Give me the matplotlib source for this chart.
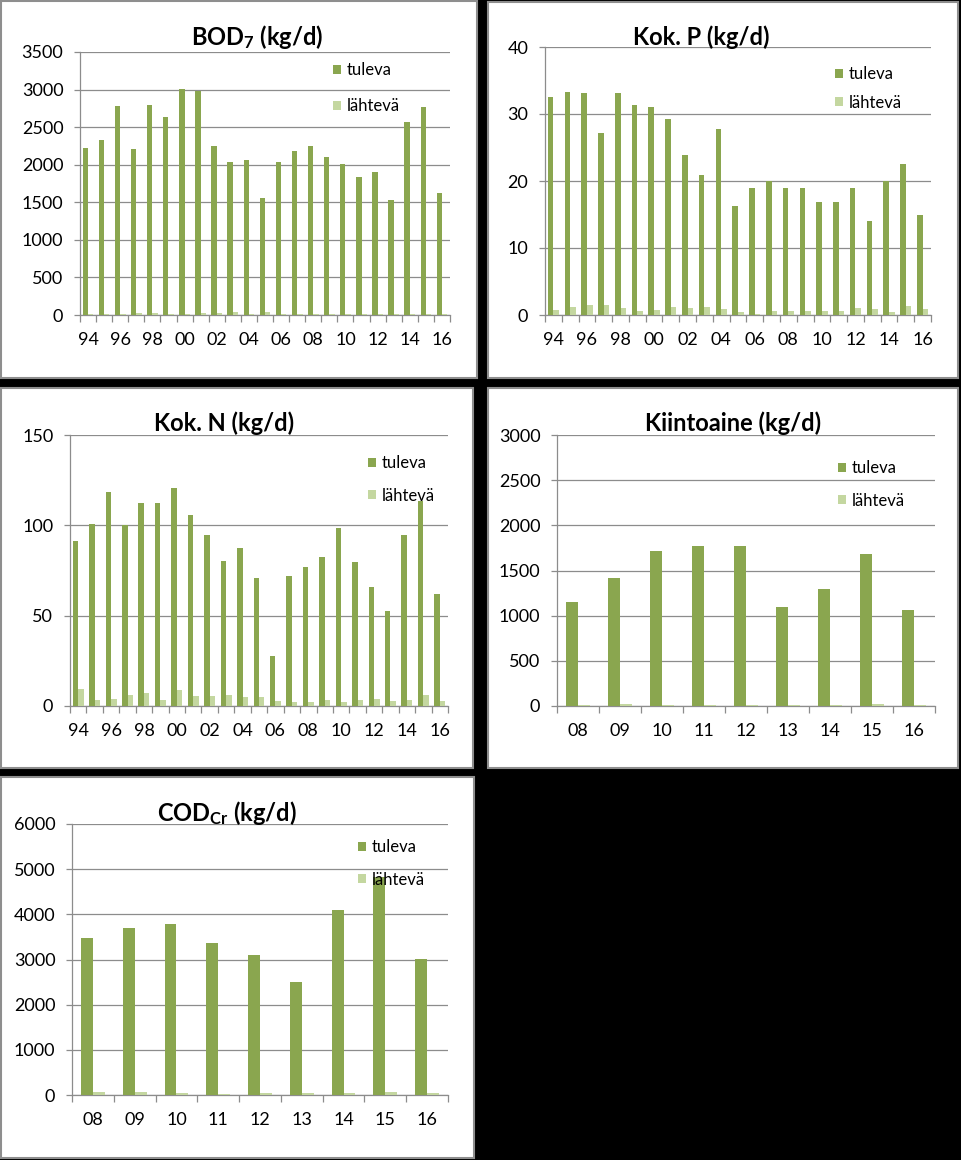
import matplotlib
matplotlib.use("Agg")
import matplotlib.pyplot as plt
from matplotlib.patches import Rectangle, Patch
import numpy as np

plt.rcParams['font.family'] = ['Lato', 'DejaVu Sans']
plt.rcParams['mathtext.fontset'] = 'custom'
plt.rcParams['mathtext.rm'] = 'Lato'
plt.rcParams['mathtext.bf'] = 'Lato:bold'
plt.rcParams['mathtext.it'] = 'Lato:italic'

# ---------------- data ----------------
years_long = ["94", "95", "96", "97", "98", "99", "00", "01", "02", "03", "04", "05",
              "06", "07", "08", "09", "10", "11", "12", "13", "14", "15", "16"]
years_short = ["08", "09", "10", "11", "12", "13", "14", "15", "16"]

bod_tuleva = [2220, 2325, 2775, 2205, 2800, 2630, 3005, 2985, 2245, 2035, 2058, 1558,
              2035, 2178, 2248, 2098, 2005, 1838, 1902, 1527, 2562, 2762, 1622]
bod_lahteva = [15, 12, 12, 25, 25, 12, 12, 25, 25, 40, 12, 40,
               12, 12, 12, 12, 12, 12, 12, 12, 12, 12, 12]

p_tuleva = [32.6, 33.3, 33.1, 27.2, 33.2, 31.4, 31.1, 29.3, 23.9, 20.9, 27.7, 16.3,
            19.0, 20.0, 19.0, 19.0, 16.9, 16.9, 19.0, 14.0, 20.0, 22.6, 14.9]
p_lahteva = [0.75, 1.25, 1.5, 1.5, 1.05, 0.65, 0.75, 1.25, 1.05, 1.25, 0.95, 0.45,
             0.2, 0.65, 0.65, 0.65, 0.65, 0.65, 1.05, 0.95, 0.45, 1.4, 0.95]

n_tuleva = [91.5, 100.9, 118.6, 100.2, 112.5, 112.5, 120.7, 105.9, 94.8, 80.4, 87.6, 71.0,
            27.9, 72.1, 77.1, 82.7, 98.7, 79.9, 66.1, 52.8, 94.8, 113.7, 62.2]
n_lahteva = [9.6, 3.5, 4.1, 6.1, 7.2, 3.5, 9.0, 5.5, 5.5, 6.1, 5.2, 5.2,
             3.0, 2.4, 2.4, 3.5, 2.4, 3.5, 4.1, 3.0, 3.5, 6.1, 3.0]

ss_tuleva = [1151, 1421, 1720, 1771, 1771, 1100, 1299, 1683, 1063]
ss_lahteva = [10, 25, 10, 10, 10, 10, 10, 25, 10]

cod_tuleva = [3476, 3697, 3786, 3365, 3100, 2502, 4096, 4819, 3011]
cod_lahteva = [66, 66, 44, 22, 44, 44, 44, 66, 44]

series_labels = ["tuleva", "lähtevä"]
# ---------------------------------------

W, H = 961, 1160
fig = plt.figure(figsize=(W / 100, H / 100), dpi=100, facecolor='black')

C_T = '#8AA64F'
C_L = '#C4D7A0'
GRID = '#8C8C8C'


def fx(x):
    return x / W


def fy(y):
    return 1 - y / H


# panel backgrounds
panels = [(1, 1, 477, 378), (488, 2, 958, 378), (1, 388, 473, 768),
          (488, 388, 958, 768), (1, 777, 474, 1158)]
for (x0, y0, x1, y1) in panels:
    fig.patches.append(Rectangle((fx(x0), fy(y1)), fx(x1) - fx(x0), fy(y0) - fy(y1),
                                 transform=fig.transFigure, facecolor='white',
                                 edgecolor='#8E8E8E', linewidth=1.5, zorder=-5))


def make_panel(box, cats, tul, lah, ymax, ystep, title, title_xy, leg_xy, labsp,
               every=1, gapwidth=1.0):
    l, r, t, b = box
    ax = fig.add_axes([fx(l), fy(b), fx(r) - fx(l), fy(t) - fy(b)])
    ax.set_zorder(1)
    ax.set_facecolor('none')
    n = len(cats)
    x = np.arange(n)
    w = 1.0 / (2 + gapwidth)
    ax.bar(x - w / 2, tul, width=w, color=C_T, zorder=3)
    ax.bar(x + w / 2, lah, width=w, color=C_L, zorder=3)
    ax.set_xlim(-0.5, n - 0.5)
    ax.set_ylim(0, ymax)
    ax.set_yticks(np.arange(0, ymax + ystep / 2, ystep))
    ax.yaxis.grid(True, color=GRID, linewidth=0.9, zorder=0)
    ax.set_axisbelow(True)
    for s in ['top', 'right']:
        ax.spines[s].set_visible(False)
    for s in ['left', 'bottom']:
        ax.spines[s].set_color(GRID)
        ax.spines[s].set_linewidth(0.9)
    idx = list(range(0, n, every))
    ax.set_xticks(idx)
    ax.set_xticklabels([cats[i] for i in idx])
    ax.set_xticks(np.arange(-0.5, n, 1.0), minor=True)
    ax.tick_params(axis='x', which='major', length=0, pad=12, labelsize=13)
    ax.tick_params(axis='x', which='minor', length=5, width=0.9, color=GRID, direction='out')
    ax.tick_params(axis='y', which='major', length=4, width=0.9, color=GRID, pad=8,
                   labelsize=13, direction='out')
    fig.text(fx(title_xy[0]), fy(title_xy[1]), title, ha='center', va='center',
             fontsize=17, fontweight='bold', zorder=5)
    handles = [Patch(facecolor=C_T, edgecolor='none'), Patch(facecolor=C_L, edgecolor='none')]
    ax.legend(handles, series_labels, loc='upper left',
              bbox_to_anchor=(fx(leg_xy[0]), fy(leg_xy[1])), bbox_transform=fig.transFigure,
              frameon=False, fontsize=12, handlelength=0.45, handleheight=0.45,
              handletextpad=0.35, labelspacing=labsp, borderpad=0, borderaxespad=0)
    return ax


make_panel((80, 450, 52, 315), years_long, bod_tuleva, bod_lahteva, 3500, 500,
           r'BOD$_\mathbf{7}$ (kg/d)', (257, 37), (333, 62), 1.2, every=2, gapwidth=1.0)
make_panel((545, 931, 47, 315), years_long, p_tuleva, p_lahteva, 40, 10,
           'Kok. P (kg/d)', (701, 37), (835, 66), 0.75, every=2, gapwidth=1.0)
make_panel((70, 448, 435, 706), years_long, n_tuleva, n_lahteva, 150, 50,
           'Kok. N (kg/d)', (224, 423), (368, 455), 1.0, every=2, gapwidth=1.0)
make_panel((557, 935, 435, 706), years_short, ss_tuleva, ss_lahteva, 3000, 500,
           'Kiintoaine (kg/d)', (733, 423), (838, 460), 1.0, every=1, gapwidth=1.5)
make_panel((72, 448, 824, 1095), years_short, cod_tuleva, cod_lahteva, 6000, 1000,
           r'COD$_\mathbf{Cr}$ (kg/d)', (227, 813), (358, 839), 1.0, every=1, gapwidth=1.5)

fig.savefig('out.png', dpi=100, facecolor='black')
